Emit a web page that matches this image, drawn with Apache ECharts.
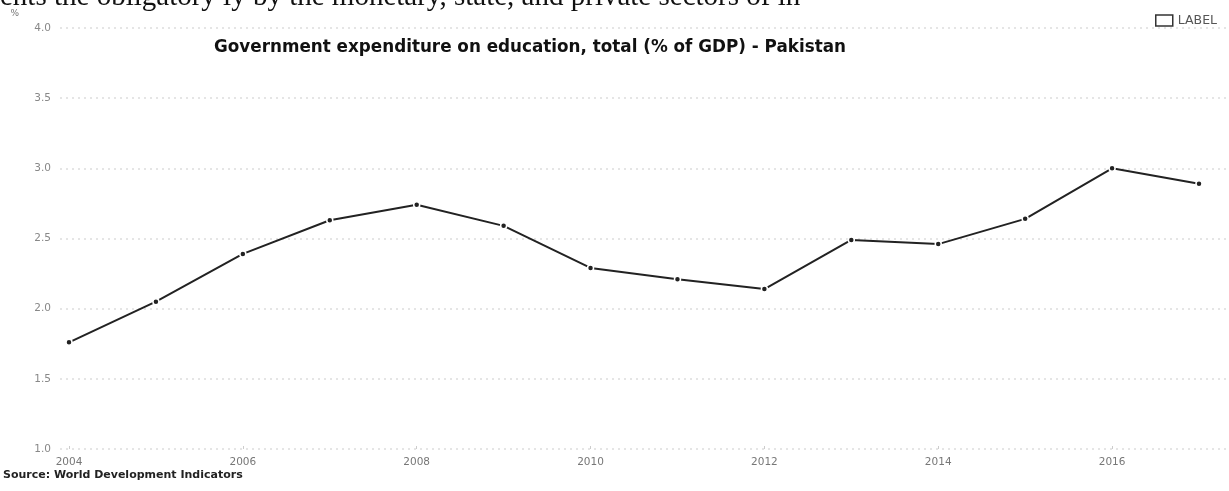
<!DOCTYPE html>
<html>
<head>
<meta charset="utf-8">
<script src="https://cdn.jsdelivr.net/npm/echarts@6/dist/echarts.min.js"></script>
<style>html,body{margin:0;padding:0;background:#fff}#c{width:1229px;height:491px}</style>
</head>
<body>
<div id="c"></div>
<script>
var years = ['2004','2005','2006','2007','2008','2009','2010','2011','2012','2013','2014','2015','2016','2017'];
var values = [1.76, 2.05, 2.39, 2.63, 2.74, 2.59, 2.29, 2.21, 2.14, 2.49, 2.46, 2.64, 3.00, 2.89];
var seriesName = 'LABEL';
var titleText = 'Government expenditure on education, total (% of GDP) - Pakistan';
var sourceText = 'Source: World Development Indicators';
var topFragment = 'ents the obligatory ly by the monetary, state, and private sectors of in';

var chart = echarts.init(document.getElementById('c'));
chart.setOption({
  animation: false,
  backgroundColor: '#fff',
  title: {
    text: titleText,
    left: 525, top: 34, textAlign: 'center',
    textStyle: {fontFamily: 'DejaVu Sans', fontWeight: 'bold', fontSize: 16.8, color: '#111'}
  },
  graphic: [
    {type: 'text', left: 3, top: 470, style: {text: sourceText, fontFamily: 'DejaVu Sans', fontWeight: 'bold', fontSize: 11, fill: '#222'}},
    {type: 'text', left: 0, top: -17, style: {text: topFragment, fontFamily: 'Liberation Serif', fontSize: 29, fill: '#111'}}
  ],
  legend: {
    right: 7, top: 9, itemWidth: 17, itemHeight: 11, itemGap: 6,
    textStyle: {fontFamily: 'DejaVu Sans', fontSize: 12.5, color: '#555'},
    data: [{name: seriesName, icon: 'rect', itemStyle: {color: '#fff', borderColor: '#333', borderWidth: 1.5}}]
  },
  grid: [
    {left: 69, right: 30, top: 28, bottom: 42},
    {left: 60, right: 0, top: 28, bottom: 42}
  ],
  xAxis: [{
    type: 'category', data: years, boundaryGap: false, gridIndex: 0,
    axisLine: {show: false},
    axisTick: {show: true, interval: 1, length: 3, inside: true, lineStyle: {color: '#ccc'}},
    axisLabel: {interval: 1, color: '#777', fontFamily: 'DejaVu Sans', fontSize: 10.5, margin: 8},
    splitLine: {show: false}
  }, {
    type: 'value', gridIndex: 1, show: false, min: 0, max: 1
  }],
  yAxis: [{
    type: 'value', min: 1.0, max: 4.0, interval: 0.5, gridIndex: 0,
    name: '%', nameLocation: 'end', nameGap: 10,
    nameTextStyle: {color: '#777', fontSize: 9, fontFamily: 'DejaVu Sans', align: 'right', padding: [0, 50, 0, 0]},
    axisLine: {show: false}, axisTick: {show: false},
    axisLabel: {formatter: function(v){return v.toFixed(1);}, color: '#888', fontFamily: 'DejaVu Sans', fontSize: 10.5, margin: 18},
    splitLine: {show: false}
  }, {
    type: 'value', min: 1.0, max: 4.0, interval: 0.5, gridIndex: 1,
    axisLine: {show: false}, axisTick: {show: false}, axisLabel: {show: false},
    splitLine: {show: true, lineStyle: {color: '#ddd', type: [2, 4], width: 1.5}}
  }],
  series: [{
    name: seriesName, type: 'line', data: values, xAxisIndex: 0, yAxisIndex: 0,
    lineStyle: {color: '#222', width: 2},
    itemStyle: {color: '#222', borderColor: '#fff', borderWidth: 1.5},
    symbol: 'circle', symbolSize: 6, showAllSymbol: true
  }]
});
</script>
</body>
</html>
